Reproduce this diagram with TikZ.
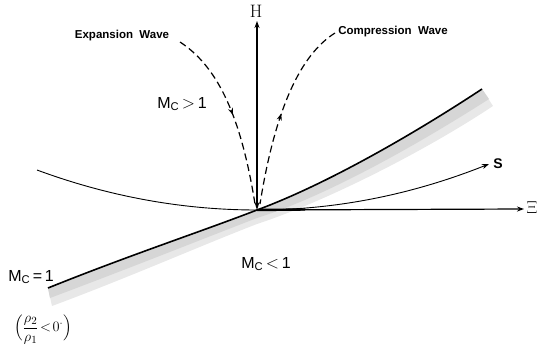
\documentclass[tikz,border=0pt]{standalone}
\usepackage{amsmath}
\usepackage{fontspec}
\newfontfamily\lab{Liberation Sans}
\usetikzlibrary{arrows.meta,decorations.markings}
\begin{document}
\begin{tikzpicture}[x=1pt,y=-1pt,
  wave/.style={dash pattern=on 7pt off 4pt, line width=1.2pt},
  axisline/.style={line width=1.2pt},
  thinline/.style={line width=0.9pt},
  small/.style={font=\lab\bfseries\fontsize{11.5}{13}\selectfont, inner sep=0pt},
  mach/.style={font=\lab\fontsize{16}{18}\selectfont, inner sep=0pt},
  midarrow/.style={postaction={decorate}, decoration={markings, mark=at position #1 with {\arrow{Stealth[length=7pt,width=5pt]}}}},
  midarrowrev/.style={postaction={decorate}, decoration={markings, mark=at position #1 with {\arrow{Stealth[length=7pt,width=5pt,reversed]}}}}
]
\useasboundingbox (0,0) rectangle (539,348);

% key points
\coordinate (O) at (257,210);
\coordinate (Htop) at (257,21);
\coordinate (Xright) at (524,209);
\coordinate (Sleft) at (37,170);
\coordinate (Send) at (489,164);
\coordinate (Bl) at (48,288);
\coordinate (Br) at (482,89);
\coordinate (Ebeg) at (180,42);
\coordinate (Cbeg) at (335,33);

% shaded band below sonic line
\fill[gray!18] (Bl) .. controls (130,255) and (200,232) .. (O)
  .. controls (330,183) and (420,130) .. (Br)
  -- (493,106) .. controls (430,148) and (330,200) .. (257,224)
  .. controls (200,246) and (130,277) .. (52,306) -- cycle;
\fill[gray!32] (Bl) .. controls (130,255) and (200,232) .. (O)
  .. controls (330,183) and (420,130) .. (Br)
  -- (489,99) .. controls (425,140) and (330,195) .. (257,218)
  .. controls (200,240) and (130,268) .. (50,298) -- cycle;

% sonic line M_C = 1
\draw[line width=1.6pt] (Bl) .. controls (130,255) and (200,232) .. (O)
  .. controls (330,183) and (420,130) .. (Br);

% S curve
\draw[thinline, -{Stealth[length=7pt,width=5pt]}] (Sleft) .. controls (110,197) and (184,210) .. (O)
  .. controls (335,210) and (411,195) .. (Send);

% axes
\draw[axisline, {Stealth[length=8pt,width=5pt]}-{Stealth[length=7pt,width=5pt]}] (O) -- (Htop);
\draw[axisline, -{Stealth[length=7pt,width=5pt]}] (O) -- (Xright);
\draw[line width=2.4pt] (O) -- (305,209.5);

% dashed waves
\draw[wave, midarrow=0.5] (Ebeg) .. controls (215,65) and (240,110) .. (255,204);
\draw[wave, midarrowrev=0.55] (Cbeg) .. controls (300,55) and (275,110) .. (260,204);

% labels
\node (Hlab) at (256,11) {\fontsize{18}{20}\selectfont H};
\node (Xlab) at (532,208) {\fontsize{16}{18}\selectfont $\Xi$};
\node (Slab) at (498,164) {\lab\bfseries\fontsize{14}{16}\selectfont S};
\node[small] (Exp) at (122,36) {Expansion\ \ Wave};
\node[small] (Comp) at (393,32) {Compression\ \ Wave};
\node[mach] (Mg) at (182,104) {M\textsubscript{C}\,$>$\,1};
\node[mach] (Ml) at (266,264) {M\textsubscript{C}\,$<$\,1};
\node[mach] (Me) at (31,277) {M\textsubscript{C}\,=\,1};
\node[inner sep=0pt] (Rho) at (43,330) {\fontsize{15}{17}\selectfont $\Bigl(\dfrac{\rho_2}{\rho_1}\!<\!0^{\cdot}\Bigr)$};
\end{tikzpicture}
\end{document}
